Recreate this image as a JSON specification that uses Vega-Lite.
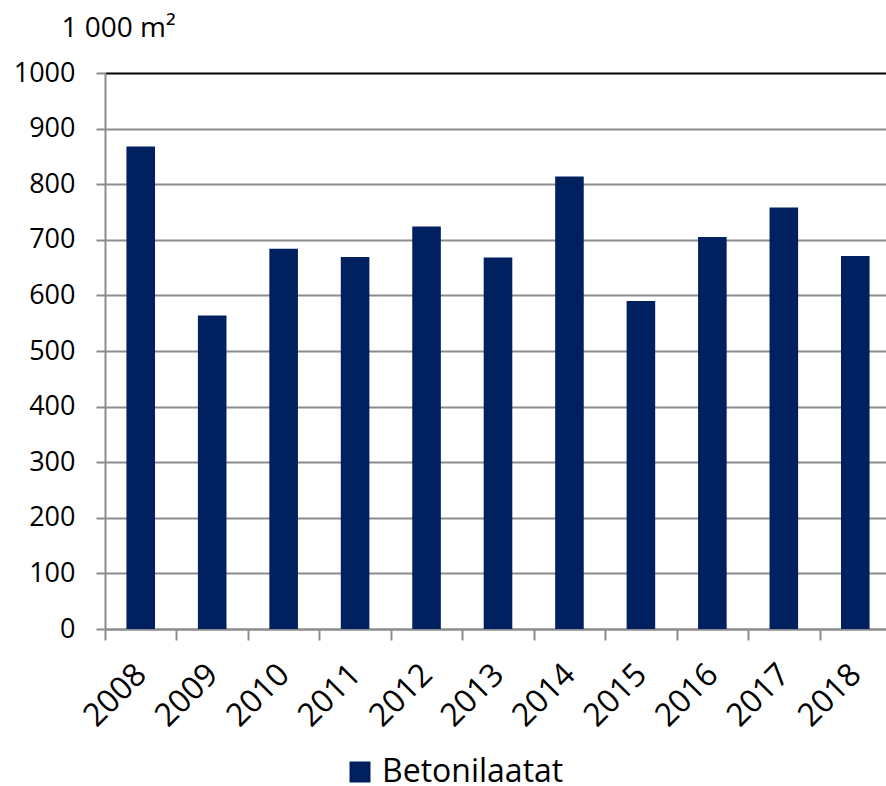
{
  "$schema": "https://vega.github.io/schema/vega-lite/v6.json",
  "autosize": "none",
  "width": 781,
  "height": 556,
  "padding": {"left": 105, "top": 73, "right": 0, "bottom": 157},
  "background": "white",
  "config": {"view": {"stroke": null}, "font": "Open Sans"},
  "data": {"values": [
    {"year": "2008", "value": 868, "series": "Betonilaatat"},
    {"year": "2009", "value": 564, "series": "Betonilaatat"},
    {"year": "2010", "value": 684, "series": "Betonilaatat"},
    {"year": "2011", "value": 669, "series": "Betonilaatat"},
    {"year": "2012", "value": 724, "series": "Betonilaatat"},
    {"year": "2013", "value": 668, "series": "Betonilaatat"},
    {"year": "2014", "value": 814, "series": "Betonilaatat"},
    {"year": "2015", "value": 590, "series": "Betonilaatat"},
    {"year": "2016", "value": 705, "series": "Betonilaatat"},
    {"year": "2017", "value": 758, "series": "Betonilaatat"},
    {"year": "2018", "value": 671, "series": "Betonilaatat"}
  ]},
  "mark": {"type": "bar", "width": {"band": 0.4}},
  "encoding": {
    "x": {
      "field": "year", "type": "ordinal",
      "scale": {"range": [0, 786], "paddingInner": 0, "paddingOuter": 0},
      "axis": {
        "title": null,
        "tickBand": "extent",
        "tickSize": 11,
        "tickWidth": 2,
        "tickColor": "#8c8c8c",
        "domainColor": "#8c8c8c",
        "domainWidth": 2,
        "labelAngle": -45,
        "labelAlign": "right",
        "labelBaseline": "middle",
        "labelFont": "Open Sans",
        "labelFontSize": 32,
        "labelColor": "black",
        "labelPadding": 29
      }
    },
    "y": {
      "field": "value", "type": "quantitative",
      "scale": {"domain": [0, 1000], "nice": false},
      "axis": {
        "values": [0, 100, 200, 300, 400, 500, 600, 700, 800, 900, 1000],
        "format": "d",
        "title": "1 000 m²",
        "titleAngle": 0,
        "titleAlign": "left",
        "titleBaseline": "alphabetic",
        "titleX": -44,
        "titleY": -37,
        "titleFont": "Open Sans",
        "titleFontSize": 28,
        "titleFontWeight": "normal",
        "titleColor": "black",
        "grid": true,
        "gridColor": {"condition": {"test": "datum.value === 1000", "value": "black"}, "value": "#8c8c8c"},
        "gridWidth": 2,
        "tickSize": 9,
        "tickWidth": 2,
        "tickColor": "#8c8c8c",
        "domainColor": "#8c8c8c",
        "domainWidth": 2,
        "labelFont": "Open Sans",
        "labelFontSize": 27,
        "labelColor": "black",
        "labelPadding": 21
      }
    },
    "color": {
      "field": "series", "type": "nominal",
      "scale": {"range": ["#002060"]},
      "legend": {
        "title": null,
        "orient": "none",
        "legendX": 239,
        "legendY": 683,
        "symbolType": "square",
        "symbolSize": 441,
        "symbolStrokeWidth": 0,
        "labelFont": "Open Sans",
        "labelFontSize": 32,
        "labelColor": "black",
        "labelLimit": 400,
        "labelOffset": 6
      }
    }
  }
}
